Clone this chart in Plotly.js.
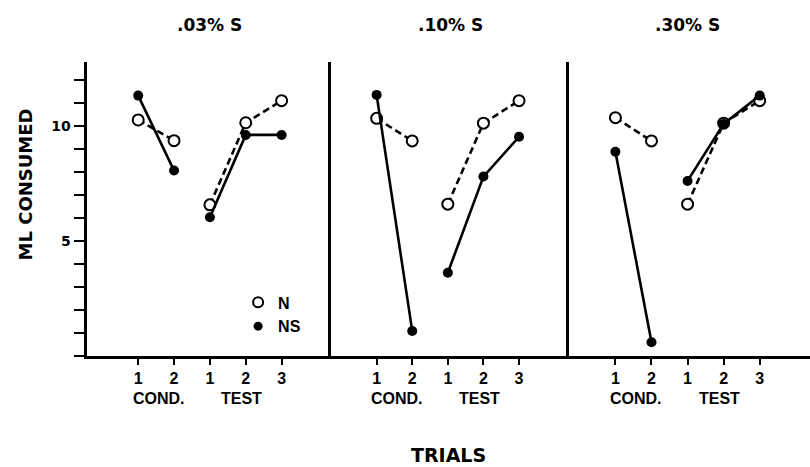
<!DOCTYPE html>
<html>
<head>
<meta charset="utf-8">
<script src="https://cdn.plot.ly/plotly-3.0.1.min.js"></script>
<style>html,body{margin:0;padding:0;background:#fff;}#chart{width:810px;height:467px;}</style>
</head>
<body>
<div id="chart"></div>
<script>
// ---- data ----
const trials = [1, 2, 3, 4, 5];
const trialLabels = ['1', '2', '1', '2', '3'];
const phaseLabels = ['COND.', 'TEST'];
const panelTitles = ['.03% S', '.10% S', '.30% S'];
const seriesNames = ['N', 'NS'];
const nValues03  = [10.26, 9.36, 6.57, 10.14, 11.10];
const nsValues03 = [11.32, 8.06, 6.03, 9.61, 9.61];
const nValues10  = [10.33, 9.35, 6.60, 10.12, 11.10];
const nsValues10 = [11.35, 1.09, 3.62, 7.80, 9.53];
const nValues30  = [10.36, 9.35, 6.60, 10.12, 11.10];
const nsValues30 = [8.88, 0.60, 7.61, 10.09, 11.32];
const yTickVals = [0, 1, 2, 3, 4, 5, 6, 7, 8, 9, 10, 11, 12];
const yTickText = ['', '', '', '', '', '5', '', '', '', '', '10', '', ''];
const xTitle = 'TRIALS';
const yTitle = 'ML CONSUMED';

// ---- styles ----
const BOLD_A = {family: 'Liberation Sans, Arial, sans-serif', weight: 700, color: '#000'};
const BOLD_D = {family: 'DejaVu Sans, sans-serif', weight: 700, color: '#000'};
const panels = [
  {nv: nValues03, nsv: nsValues03, xa: 'x',  ya: 'y'},
  {nv: nValues10, nsv: nsValues10, xa: 'x2', ya: 'y2'},
  {nv: nValues30, nsv: nsValues30, xa: 'x3', ya: 'y3'}
];
const nStyle = {
  line: {color: '#000', width: 2.6, dash: '7px,4px'},
  marker: {symbol: 'circle', size: 11, color: '#fff', line: {color: '#000', width: 2}}
};
const nsStyle = {
  line: {color: '#000', width: 2.6},
  marker: {symbol: 'circle', size: 10, color: '#000', line: {color: '#000', width: 0}}
};
const segments = [[0, 2], [2, 5]];

const traces = [];
panels.forEach(p => {
  [[p.nv, nStyle], [p.nsv, nsStyle]].forEach(([vals, st]) => {
    segments.forEach(([a, b]) => {
      traces.push({
        type: 'scatter', mode: 'lines+markers',
        x: trials.slice(a, b), y: vals.slice(a, b),
        xaxis: p.xa, yaxis: p.ya,
        line: st.line, marker: st.marker,
        showlegend: false, hoverinfo: 'skip', cliponaxis: false
      });
    });
  });
});
// legend entries (markers only)
traces.push({type: 'scatter', mode: 'markers', x: [null], y: [null], name: seriesNames[0],
  xaxis: 'x', yaxis: 'y', showlegend: true,
  marker: {symbol: 'circle', size: 10, color: '#fff', line: {color: '#000', width: 2}}});
traces.push({type: 'scatter', mode: 'markers', x: [null], y: [null], name: seriesNames[1],
  xaxis: 'x', yaxis: 'y', showlegend: true,
  marker: {symbol: 'circle', size: 9, color: '#000'}});

const xBase = {
  tickmode: 'array', tickvals: trials, ticktext: trialLabels,
  ticks: 'outside', ticklen: 6, tickwidth: 2, tickcolor: '#000',
  showline: true, linewidth: 3, linecolor: '#000',
  showgrid: false, zeroline: false, fixedrange: true,
  tickfont: Object.assign({size: 16}, BOLD_A)
};
const yRange = [0, 12.78];
const ySep = {
  range: yRange, showline: true, linewidth: 3.2, linecolor: '#000',
  ticks: '', showticklabels: false, showgrid: false, zeroline: false, fixedrange: true
};

const annotations = [];
const domains = ['x domain', 'x2 domain', 'x3 domain'];
const titleXs = [0.5, 0.5, 0.49];
panelTitles.forEach((t, i) => {
  annotations.push({text: t, xref: domains[i], yref: 'paper', x: titleXs[i], y: 1.125,
    xanchor: 'center', yanchor: 'middle', showarrow: false, font: Object.assign({size: 17}, BOLD_D)});
  annotations.push({text: phaseLabels[0], xref: panels[i].xa, yref: 'paper', x: 1.58, y: -0.146,
    xanchor: 'center', yanchor: 'middle', showarrow: false, font: Object.assign({size: 16}, BOLD_A)});
  annotations.push({text: phaseLabels[1], xref: panels[i].xa, yref: 'paper', x: 3.88, y: -0.146,
    xanchor: 'center', yanchor: 'middle', showarrow: false, font: Object.assign({size: 16}, BOLD_A)});
});
annotations.push({text: xTitle, xref: 'paper', yref: 'paper', x: 0.5, y: -0.337,
  xanchor: 'center', yanchor: 'middle', showarrow: false, font: Object.assign({size: 19}, BOLD_D)});
annotations.push({text: yTitle, xref: 'paper', yref: 'paper', x: -0.085, y: 0.582, textangle: -90,
  xanchor: 'center', yanchor: 'middle', showarrow: false, font: Object.assign({size: 18}, BOLD_D)});

const layout = {
  width: 810, height: 467,
  margin: {l: 87, r: 0, t: 62, b: 111, pad: 0},
  paper_bgcolor: '#fff', plot_bgcolor: '#fff',
  showlegend: true,
  legend: {x: 0.209, y: 0.24, xanchor: 'left', yanchor: 'top', bgcolor: 'rgba(0,0,0,0)',
    font: Object.assign({size: 16}, BOLD_A), itemwidth: 30, tracegroupgap: 0},
  xaxis:  Object.assign({domain: [0, 0.3375], range: [-0.428, 6.378], anchor: 'y'}, xBase),
  xaxis2: Object.assign({domain: [0.3375, 0.6667], range: [-0.281, 6.404], anchor: 'y2'}, xBase),
  xaxis3: Object.assign({domain: [0.6667, 1], range: [-0.286, 6.394], anchor: 'y3'}, xBase),
  yaxis: {
    anchor: 'x', range: yRange, tickmode: 'array', tickvals: yTickVals, ticktext: yTickText,
    ticks: 'outside', ticklen: 10, tickwidth: 2, tickcolor: '#000',
    showline: true, linewidth: 3.5, linecolor: '#000',
    showgrid: false, zeroline: false, fixedrange: true,
    tickfont: Object.assign({size: 14}, BOLD_D)
  },
  yaxis2: Object.assign({anchor: 'x2'}, ySep),
  yaxis3: Object.assign({anchor: 'x3'}, ySep),
  annotations: annotations
};

Plotly.newPlot('chart', traces, layout, {displayModeBar: false, staticPlot: true});
</script>
</body>
</html>
